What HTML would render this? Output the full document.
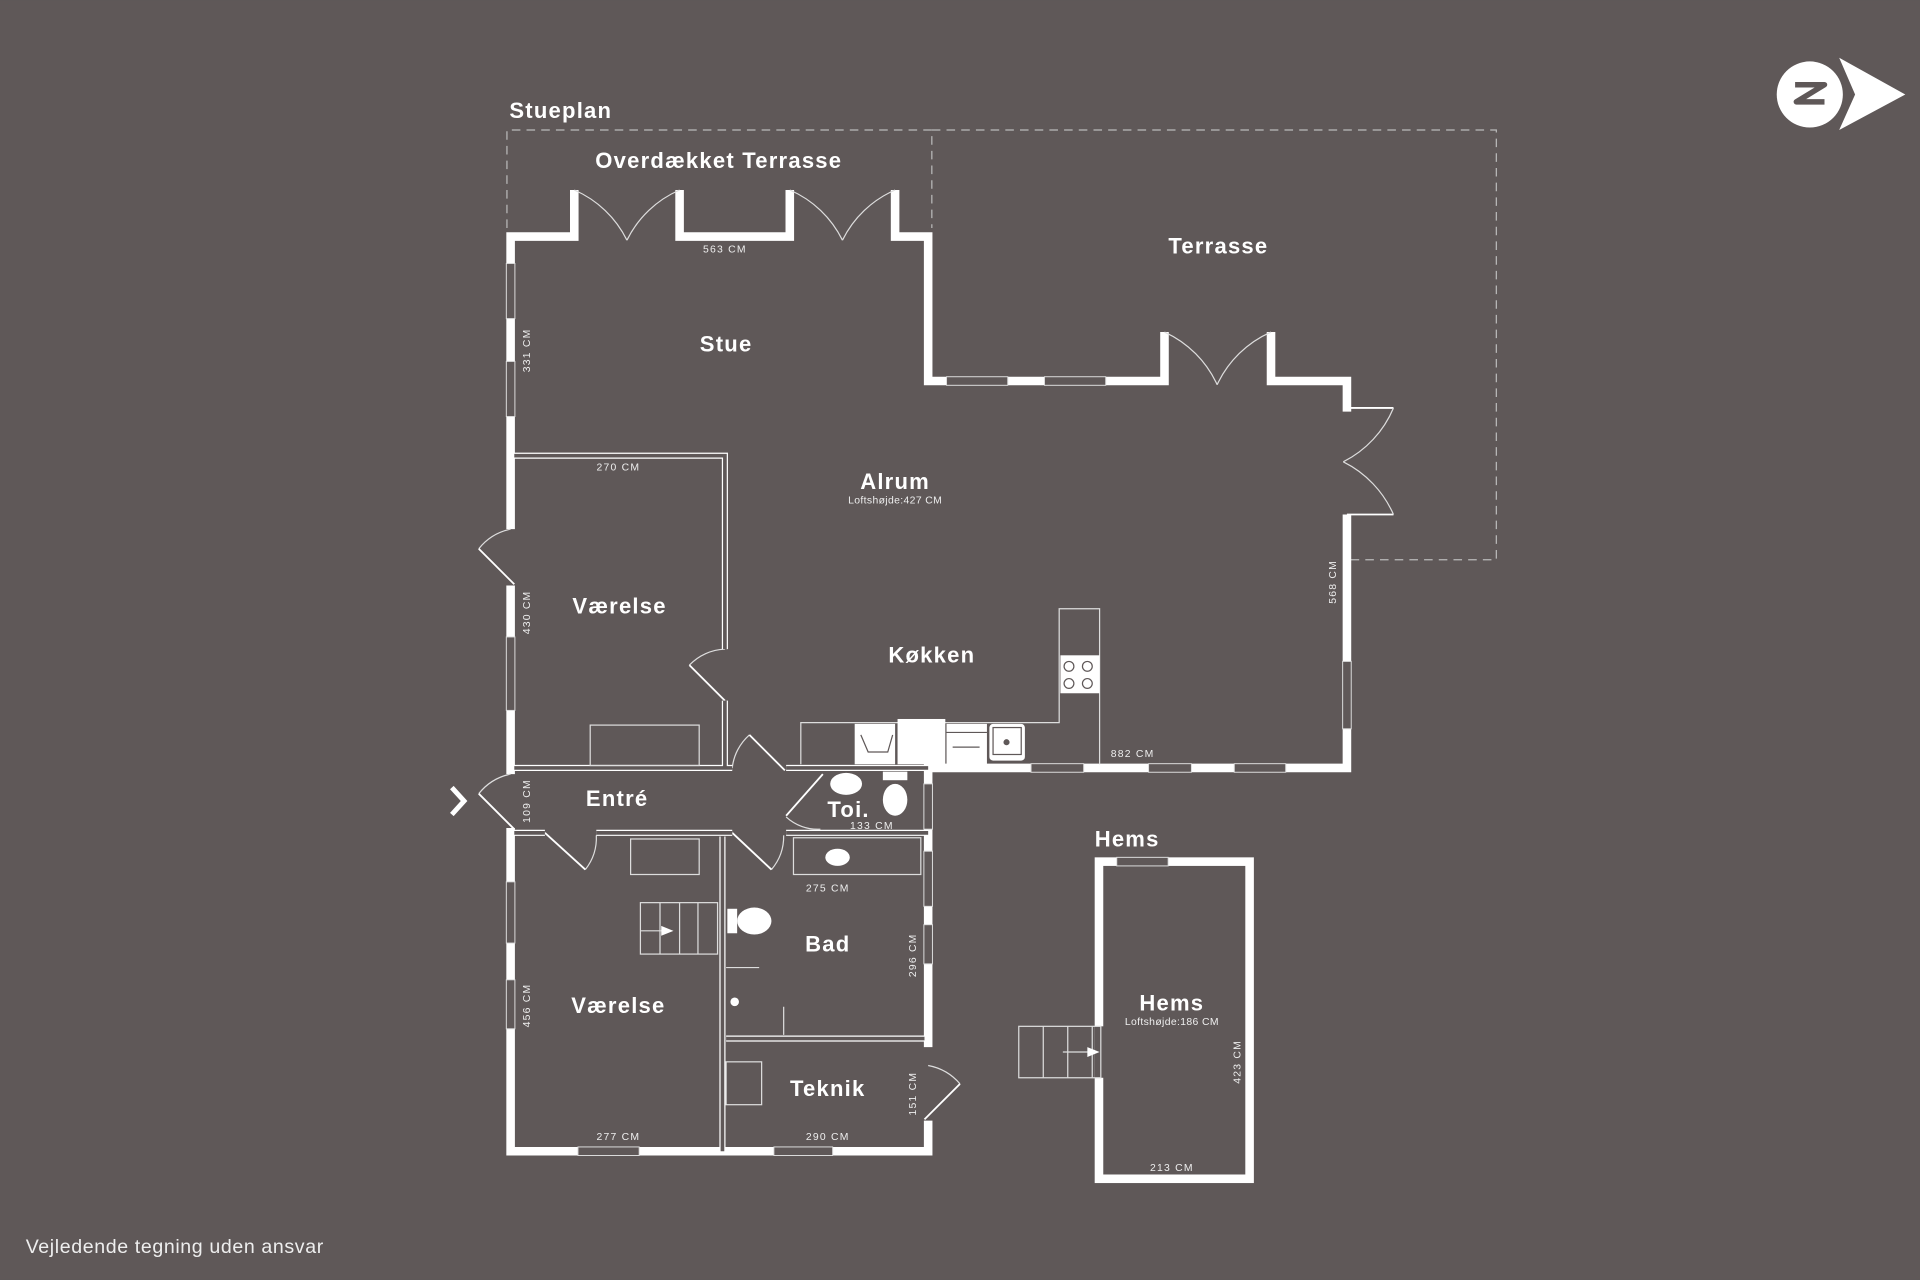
<!DOCTYPE html>
<html><head><meta charset="utf-8"><style>
html,body{margin:0;padding:0;background:#5f5858;}
svg{display:block}
text{font-family:"Liberation Sans",sans-serif;fill:#fff}
.l{font-weight:bold;font-size:18px;letter-spacing:1px}
.d{font-size:8.5px;fill:#eee;letter-spacing:1px}
</style></head><body>
<svg width="1920" height="1280" viewBox="0 0 1568 1045" xmlns="http://www.w3.org/2000/svg">
<rect width="1568" height="1045" fill="#5f5858"/>
<g fill="none" stroke="#bbb" stroke-width="1" stroke-dasharray="7,5">
<path d="M414 186 V106 H761 V186"/>
<path d="M761 106 H1222 V457 H1102"/>
</g>
<g fill="none" stroke="#fff" stroke-width="7" stroke-linejoin="miter">
<path d="M469 155 V193 H417 V432"/>
<path d="M555 155 V193 H645 V155"/>
<path d="M731 155 V193 H758 V311 H951 V271"/>
<path d="M1038 271 V311 H1100 V336"/>
<path d="M1100 420 V627 H758 V855"/>
<path d="M758 915 V940 H417 V676"/>
<path d="M417 632 V478"/>
</g>
<g stroke="#fff" stroke-width="1.5" fill="none">
<path d="M469 155 V190 M555 155 V190 M645 155 V190 M731 155 V190 M951 271 V308 M1038 271 V308"/>
<path d="M1100 333 H1138 M1100 420 H1138"/>
</g>
<g stroke="#ddd" stroke-width="1" fill="none">
<path d="M469 155 A86 86 0 0 1 512 196"/><path d="M555 155 A86 86 0 0 0 512 196"/>
<path d="M645 155 A86 86 0 0 1 688 196"/><path d="M731 155 A86 86 0 0 0 688 196"/>
<path d="M951 271 A87 87 0 0 1 994 314"/><path d="M1038 271 A87 87 0 0 0 994 314"/>
<path d="M1138 333 A87 87 0 0 1 1097 377"/><path d="M1138 420 A87 87 0 0 0 1097 377"/>
<path d="M417 432 A45 45 0 0 0 391 448"/><path d="M391 448 L420 477" stroke="#fff" stroke-width="1.5"/>
<path d="M417 632 A45 45 0 0 0 391 648"/><path d="M391 648 L420 677" stroke="#fff" stroke-width="1.5"/>
<path d="M592 530 A42 42 0 0 0 563 543"/><path d="M563 543 L592 572" stroke="#fff" stroke-width="1.5"/>
<path d="M598 627 A42 42 0 0 1 612 600"/><path d="M612 600 L641 629" stroke="#fff" stroke-width="1.5"/>
<path d="M487 682 A42 42 0 0 1 478 710"/><path d="M445 680 L478 710" stroke="#fff" stroke-width="1.5"/>
<path d="M640 682 A42 42 0 0 1 630 710"/><path d="M598 680 L630 710" stroke="#fff" stroke-width="1.5"/>
<path d="M642 667 A38 38 0 0 0 670 677"/>
<path d="M672 632 L642 666" stroke="#fff" stroke-width="1.5"/>
<path d="M758 870 A45 45 0 0 1 784 885"/><path d="M784 885 L755 914" stroke="#fff" stroke-width="1.5"/>
</g>
<g fill="#5f5858" stroke="#ddd" stroke-width="0.8">
<rect x="773" y="307.5" width="50" height="7"/><rect x="853" y="307.5" width="50" height="7"/>
<rect x="842" y="623.5" width="43" height="7"/><rect x="938" y="623.5" width="35" height="7"/><rect x="1008" y="623.5" width="42" height="7"/>
<rect x="1096.5" y="540" width="7" height="55"/>
<rect x="413.5" y="215" width="7" height="45"/><rect x="413.5" y="295" width="7" height="45"/>
<rect x="413.5" y="520" width="7" height="60"/>
<rect x="413.5" y="720" width="7" height="50"/><rect x="413.5" y="800" width="7" height="40"/>
<rect x="472" y="936.5" width="50" height="7"/><rect x="632" y="936.5" width="48" height="7"/>
<rect x="754.5" y="640" width="7" height="37"/><rect x="754.5" y="695" width="7" height="45"/><rect x="754.5" y="755" width="7" height="32"/>
</g>
<g fill="none" stroke-linejoin="miter">
<path d="M420 372 H592 V530 M592 572 V627 M420 627 H598 M642 627 H758 M420 680 H445 M487 680 H598 M642 680 H758 M590 683 V940 M593 848 H755" stroke="#fff" stroke-width="5"/>
<path d="M420 372 H592 V530 M592 572 V627 M420 627 H598 M642 627 H758 M420 680 H445 M487 680 H598 M642 680 H758 M590 683 V940 M593 848 H755" stroke="#5f5858" stroke-width="3"/>
</g>
<g fill="none" stroke="#ddd" stroke-width="1">
<rect x="482" y="592" width="89" height="33"/>
<rect x="515" y="685" width="56" height="29"/>
<rect x="523" y="737" width="63" height="42"/><path d="M539 737 V779 M555 737 V779 M570 737 V779 M523 760 H545"/>
<rect x="648" y="684" width="104" height="30"/>
<path d="M593 790 H620 M640 822 V845"/>
<rect x="593" y="867" width="29" height="35"/>
<path d="M654 624 V590 H865 V497 H898 V624"/>
</g>
<path d="M540 756 L550 760 L540 764 Z" fill="#fff"/>
<g fill="#fff">
<rect x="698" y="591" width="33" height="33"/><rect x="733" y="587" width="39" height="37"/>
<rect x="773" y="591" width="33" height="33"/><rect x="808" y="591" width="29" height="30" rx="3"/>
<rect x="866" y="535" width="32" height="31"/>
<ellipse cx="616" cy="752" rx="14" ry="11"/><rect x="594" y="742" width="8" height="20"/>
<ellipse cx="731" cy="653" rx="10" ry="13"/><rect x="721" y="630" width="20" height="7"/>
<ellipse cx="691" cy="640" rx="13" ry="9"/>
<ellipse cx="684" cy="700" rx="10" ry="7"/>
<circle cx="600" cy="818" r="3.5"/>
</g>
<g fill="none" stroke="#5f5858" stroke-width="1">
<path d="M703 600 L709 614 H725 L729 600"/>
<circle cx="873" cy="544" r="4"/><circle cx="888" cy="544" r="4"/><circle cx="873" cy="558" r="4"/><circle cx="888" cy="558" r="4"/>
<rect x="811" y="594" width="23" height="22"/><circle cx="822" cy="606" r="2" fill="#5f5858"/>
<path d="M773 598 H806 M778 610 H800"/>
</g>
<rect x="897.5" y="703.5" width="123" height="259" fill="none" stroke="#fff" stroke-width="7"/>
<rect x="912" y="700" width="42" height="7" fill="#5f5858" stroke="#ddd" stroke-width="0.8"/>
<rect x="894" y="838" width="8" height="42" fill="#5f5858"/>
<g fill="none" stroke="#ddd" stroke-width="1">
<rect x="832" y="838" width="67" height="42"/><path d="M852 838 V880 M872 838 V880 M892 838 V880 M868 859 H895"/>
</g>
<path d="M888 855 L898 859 L888 863 Z" fill="#fff"/>
<path d="M369 643 L379 654 L369 665" fill="none" stroke="#fff" stroke-width="4"/>
<circle cx="1478" cy="77" r="27" fill="#fff"/>
<path d="M1466 69 H1490 L1467 83 H1490" fill="none" stroke="#5f5858" stroke-width="4.5" stroke-linejoin="round"/>
<path d="M1502 47 L1556 77 L1502 106 L1515 77 Z" fill="#fff"/>
<text class="l" x="416" y="96">Stueplan</text>
<text class="l" x="587" y="137" text-anchor="middle">Overdækket Terrasse</text>
<text class="l" x="995" y="207" text-anchor="middle">Terrasse</text>
<text class="l" x="593" y="287" text-anchor="middle">Stue</text>
<text class="l" x="731" y="399" text-anchor="middle">Alrum</text>
<text class="d" x="731" y="411" text-anchor="middle" style="letter-spacing:0.3px">Loftshøjde:427 CM</text>
<text class="l" x="506" y="501" text-anchor="middle">Værelse</text>
<text class="l" x="761" y="541" text-anchor="middle">Køkken</text>
<text class="l" x="504" y="658" text-anchor="middle">Entré</text>
<text class="l" x="693" y="667" text-anchor="middle">Toi.</text>
<text class="l" x="676" y="777" text-anchor="middle">Bad</text>
<text class="l" x="505" y="827" text-anchor="middle">Værelse</text>
<text class="l" x="676" y="895" text-anchor="middle">Teknik</text>
<text class="l" x="894" y="691">Hems</text>
<text class="l" x="957" y="825" text-anchor="middle">Hems</text>
<text class="d" x="957" y="837" text-anchor="middle" style="letter-spacing:0.3px">Loftshøjde:186 CM</text>
<text class="d" x="592" y="206" text-anchor="middle">563 CM</text>
<text class="d" x="505" y="384" text-anchor="middle">270 CM</text>
<text class="d" x="925" y="618" text-anchor="middle">882 CM</text>
<text class="d" x="712" y="677" text-anchor="middle">133 CM</text>
<text class="d" x="676" y="728" text-anchor="middle">275 CM</text>
<text class="d" x="505" y="931" text-anchor="middle">277 CM</text>
<text class="d" x="676" y="931" text-anchor="middle">290 CM</text>
<text class="d" x="957" y="956" text-anchor="middle">213 CM</text>
<text class="d" transform="translate(433 286) rotate(-90)" text-anchor="middle">331 CM</text>
<text class="d" transform="translate(433 500) rotate(-90)" text-anchor="middle">430 CM</text>
<text class="d" transform="translate(433 654) rotate(-90)" text-anchor="middle">109 CM</text>
<text class="d" transform="translate(433 821) rotate(-90)" text-anchor="middle">456 CM</text>
<text class="d" transform="translate(1091 475) rotate(-90)" text-anchor="middle">568 CM</text>
<text class="d" transform="translate(748 780) rotate(-90)" text-anchor="middle">296 CM</text>
<text class="d" transform="translate(748 893) rotate(-90)" text-anchor="middle">151 CM</text>
<text class="d" transform="translate(1013 867) rotate(-90)" text-anchor="middle">423 CM</text>
<text x="21" y="1023" style="font-size:16px;fill:#eee;letter-spacing:0.5px">Vejledende tegning uden ansvar</text>
</svg>
</body></html>
